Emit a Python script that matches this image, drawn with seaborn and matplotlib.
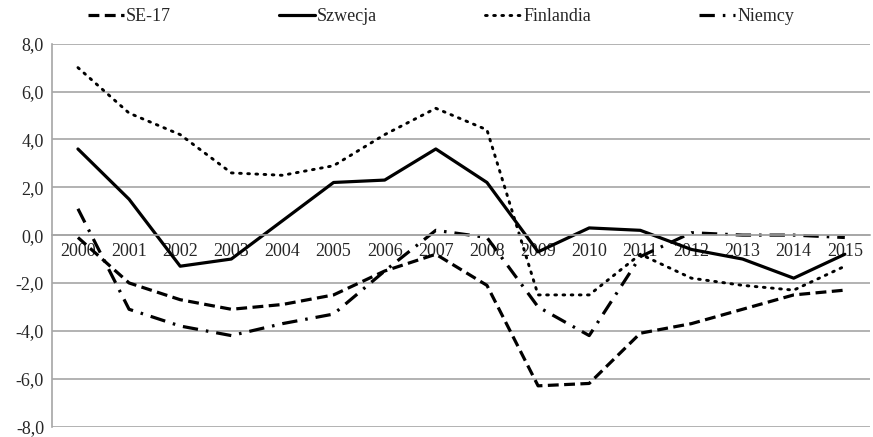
import pandas as pd
import matplotlib
matplotlib.use("Agg")
import matplotlib.pyplot as plt
import seaborn as sns

years = [str(y) for y in range(2000, 2016)]
se17 = [-0.1, -2.0, -2.7, -3.1, -2.9, -2.5, -1.5, -0.8, -2.1, -6.3, -6.2, -4.1, -3.7, -3.1, -2.5, -2.3]
szwecja = [3.6, 1.5, -1.3, -1.0, 0.6, 2.2, 2.3, 3.6, 2.2, -0.7, 0.3, 0.2, -0.6, -1.0, -1.8, -0.8]
finlandia = [7.0, 5.1, 4.2, 2.6, 2.5, 2.9, 4.2, 5.3, 4.4, -2.5, -2.5, -0.8, -1.8, -2.1, -2.3, -1.3]
niemcy = [1.1, -3.1, -3.8, -4.2, -3.7, -3.3, -1.5, 0.2, -0.1, -3.0, -4.2, -0.9, 0.1, 0.0, 0.0, -0.1]
y_ticks = [-8, -6, -4, -2, 0, 2, 4, 6, 8]
y_labels = ["-8,0", "-6,0", "-4,0", "-2,0", "0,0", "2,0", "4,0", "6,0", "8,0"]

series = {"SE-17": se17, "Szwecja": szwecja, "Finlandia": finlandia, "Niemcy": niemcy}
styles = {
    "SE-17": dict(lw=2.3, dashes=(3.4, 1.7)),
    "Szwecja": dict(lw=2.3, dashes=()),
    "Finlandia": dict(lw=2.1, dashes=(0.6, 2.2), dash_capstyle="round"),
    "Niemcy": dict(lw=2.3, dashes=(4.8, 2.5, 0.8, 2.5)),
}

df = pd.DataFrame({"x": range(len(years)), **series})
long = df.melt(id_vars="x", var_name="kraj", value_name="v")

sns.set_style("white")
plt.rcParams["font.family"] = ["Liberation Serif", "DejaVu Serif"]
plt.rcParams["font.size"] = 13

fig, ax = plt.subplots(figsize=(8.73, 4.37), dpi=100)
fig.subplots_adjust(left=0.06, right=0.997, top=0.9, bottom=0.024)

for name in series:
    st = styles[name]
    sub = long[long["kraj"] == name]
    sns.lineplot(data=sub, x="x", y="v", ax=ax, color="black",
                 lw=st["lw"], label=name, legend=False)
    l = ax.lines[-1]
    if st["dashes"]:
        l.set_dashes(st["dashes"])
    if "dash_capstyle" in st:
        l.set_dash_capstyle(st["dash_capstyle"])

ax.set_xlim(-0.5, len(years) - 0.5)
ax.set_ylim(-8, 8)
ax.set_yticks(y_ticks)
ax.set_yticklabels(y_labels)
ax.set_xticks(range(len(years)))
ax.set_xticklabels(years)
ax.set_xticks([i - 0.5 for i in range(len(years) + 1)], minor=True)
ax.set_xlabel("")
ax.set_ylabel("")

ax.yaxis.grid(True, color="#a6a6a6", lw=1.2)
ax.set_axisbelow(True)
for s in ["top", "right"]:
    ax.spines[s].set_visible(False)
ax.spines["bottom"].set_position(("data", 0))
ax.spines["bottom"].set_color("#a6a6a6")
ax.spines["left"].set_color("#a6a6a6")
ax.spines["left"].set_linewidth(1.2)
ax.spines["bottom"].set_linewidth(1.2)
ax.tick_params(axis="x", which="major", length=0, pad=6)
ax.tick_params(axis="x", which="minor", length=4, color="#a6a6a6", direction="out")
ax.tick_params(axis="y", length=4, color="#a6a6a6", direction="out", pad=2)

handles = ax.lines[:4]
fig.legend(handles, list(series.keys()), loc="upper center", bbox_to_anchor=(0.505, 1.018),
           ncol=4, frameon=False, handlelength=2.0, columnspacing=6.0, handletextpad=0.1)

fig.savefig("out.png", dpi=100)
